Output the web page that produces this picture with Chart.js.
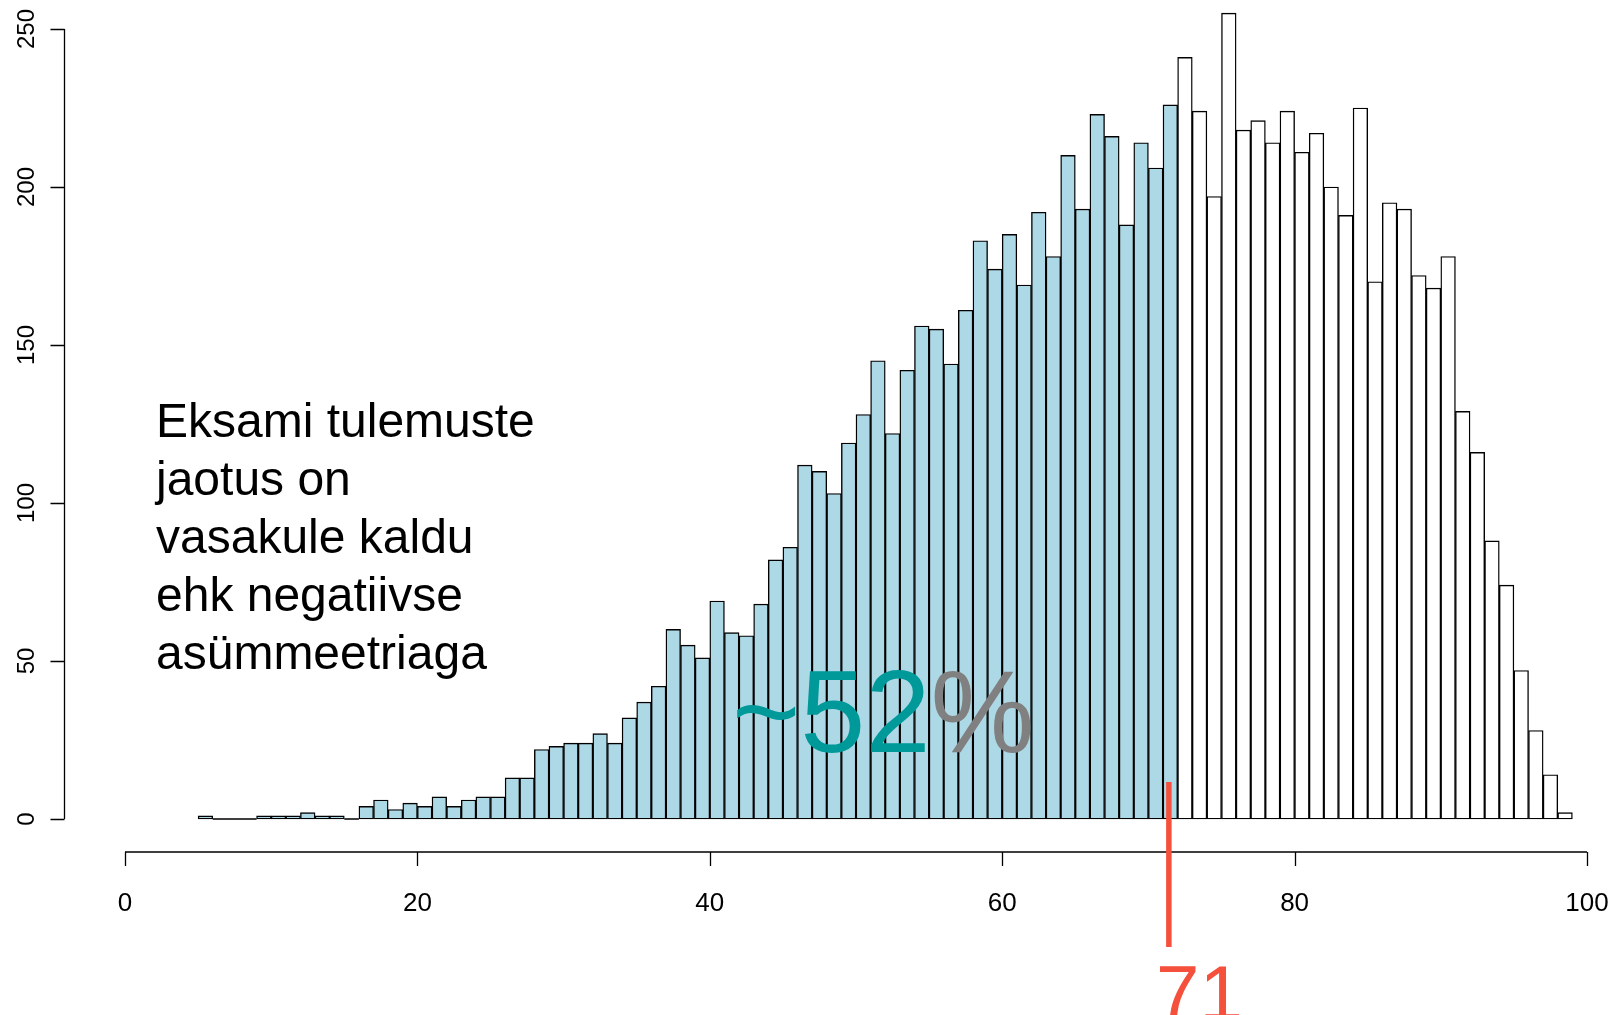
<!DOCTYPE html>
<html>
<head>
<meta charset="utf-8">
<script src="https://cdn.jsdelivr.net/npm/chart.js@4.4.1/dist/chart.umd.min.js"></script>
<style>
  html, body { margin: 0; padding: 0; background: #fff; }
  canvas { display: block; }
</style>
</head>
<body>
<canvas id="histChart" width="1619" height="1015"></canvas>
<script>
// bin start (score), bins are 1 point wide
const binStarts = [5, 6, 7, 8, 9, 10, 11, 12, 13, 14, 15, 16, 17, 18, 19, 20, 21, 22, 23, 24,
    25, 26, 27, 28, 29, 30, 31, 32, 33, 34, 35, 36, 37, 38, 39, 40, 41, 42, 43, 44,
    45, 46, 47, 48, 49, 50, 51, 52, 53, 54, 55, 56, 57, 58, 59, 60, 61, 62, 63, 64,
    65, 66, 67, 68, 69, 70, 71, 72, 73, 74, 75, 76, 77, 78, 79, 80, 81, 82, 83, 84,
    85, 86, 87, 88, 89, 90, 91, 92, 93, 94, 95, 96, 97, 98];
const counts = [1, 0, 0, 0, 1, 1, 1, 2, 1, 1, 0, 4, 6, 3, 5, 4, 7, 4, 6, 7,
    7, 13, 13, 22, 23, 24, 24, 27, 24, 32, 37, 42, 60, 55, 51, 69, 59, 58, 68, 82,
    86, 112, 110, 103, 119, 128, 145, 122, 142, 156, 155, 144, 161, 183, 174, 185, 169, 192, 178, 210,
    193, 223, 216, 188, 214, 206, 226, 241, 224, 197, 255, 218, 221, 214, 224, 211, 217, 200, 191, 225,
    170, 195, 193, 172, 168, 178, 129, 116, 88, 74, 47, 28, 14, 2];
const xTicks = [0, 20, 40, 60, 80, 100];
const yTicks = [0, 50, 100, 150, 200, 250];
const cutoff = 72;      // bins below this are shaded
const markValue = 71.4; // red marker
const markLabel = '71';

const FONT = '"Liberation Sans", Arial, Helvetica, sans-serif';

const barColors = binStarts.map(b => b < cutoff ? '#ADD8E6' : '#FFFFFF');

// R style axes + annotations
const rStyle = {
    id: 'rStyle',
    afterDraw(chart) {
        const ctx = chart.ctx;
        const xs = chart.scales.x;
        const ys = chart.scales.y;
        ctx.save();

        // x axis
        const axY = 852;
        ctx.strokeStyle = '#000';
        ctx.lineWidth = 1.3;
        ctx.beginPath();
        ctx.moveTo(xs.getPixelForValue(xTicks[0]), axY);
        ctx.lineTo(xs.getPixelForValue(xTicks[xTicks.length - 1]), axY);
        xTicks.forEach(t => {
            const px = Math.round(xs.getPixelForValue(t)) + 0.5;
            ctx.moveTo(px, axY);
            ctx.lineTo(px, axY + 14);
        });
        ctx.stroke();
        ctx.fillStyle = '#000';
        ctx.font = '26px ' + FONT;
        ctx.textAlign = 'center';
        ctx.textBaseline = 'alphabetic';
        xTicks.forEach(t => ctx.fillText(String(t), xs.getPixelForValue(t), 911));

        // y axis
        const axX = 64.5;
        ctx.beginPath();
        ctx.moveTo(axX, ys.getPixelForValue(yTicks[0]));
        ctx.lineTo(axX, ys.getPixelForValue(yTicks[yTicks.length - 1]));
        yTicks.forEach(t => {
            const py = Math.round(ys.getPixelForValue(t)) + 0.5;
            ctx.moveTo(axX, py);
            ctx.lineTo(axX - 14, py);
        });
        ctx.stroke();
        ctx.font = '24px ' + FONT;
        yTicks.forEach(t => {
            ctx.save();
            ctx.translate(34, ys.getPixelForValue(t));
            ctx.rotate(-Math.PI / 2);
            ctx.fillText(String(t), 0, 0);
            ctx.restore();
        });

        // zero-count bins still show as a line on the baseline
        ctx.lineWidth = 1.4;
        ctx.beginPath();
        binStarts.forEach((b, i) => {
            if (counts[i] === 0) {
                const y0 = ys.getPixelForValue(0);
                ctx.moveTo(xs.getPixelForValue(b), y0);
                ctx.lineTo(xs.getPixelForValue(b + 1), y0);
            }
        });
        ctx.stroke();

        // description
        ctx.textAlign = 'left';
        ctx.font = '48px ' + FONT;
        const lines = ['Eksami tulemuste', 'jaotus on', 'vasakule kaldu', 'ehk negatiivse', 'asümmeetriaga'];
        lines.forEach((l, i) => ctx.fillText(l, 156, 437 + i * 58));

        // ~52%
        ctx.font = '117px ' + FONT;
        ctx.fillStyle = '#009999';
        ctx.fillText('~52', 732, 752);
        const w = ctx.measureText('~52').width;
        ctx.fillStyle = '#808080';
        ctx.fillText('%', 732 + w, 752);

        // red marker
        const mx = xs.getPixelForValue(markValue);
        ctx.strokeStyle = '#F5503C';
        ctx.lineWidth = 5.5;
        ctx.beginPath();
        ctx.moveTo(mx, 782);
        ctx.lineTo(mx, 947);
        ctx.stroke();
        ctx.fillStyle = '#F5503C';
        ctx.font = '78px ' + FONT;
        ctx.fillText(markLabel, 1156, 1020);

        ctx.restore();
    }
};

new Chart(document.getElementById('histChart').getContext('2d'), {
    type: 'bar',
    data: {
        datasets: [{
            data: binStarts.map((b, i) => ({ x: b + 0.5, y: counts[i] })),
            backgroundColor: barColors,
            borderColor: '#000',
            borderWidth: 1.4,
            borderSkipped: false,
            barPercentage: 1,
            categoryPercentage: 1,
            clip: false
        }]
    },
    options: {
        responsive: false,
        animation: false,
        devicePixelRatio: 1,
        layout: { padding: { left: 125, right: 32, top: 29, bottom: 196 } },
        plugins: { legend: { display: false }, tooltip: { enabled: false } },
        scales: {
            x: { type: 'linear', min: 0, max: 100, offset: false, display: false },
            y: { type: 'linear', min: 0, max: 250, display: false }
        }
    },
    plugins: [rStyle]
});
</script>
</body>
</html>
